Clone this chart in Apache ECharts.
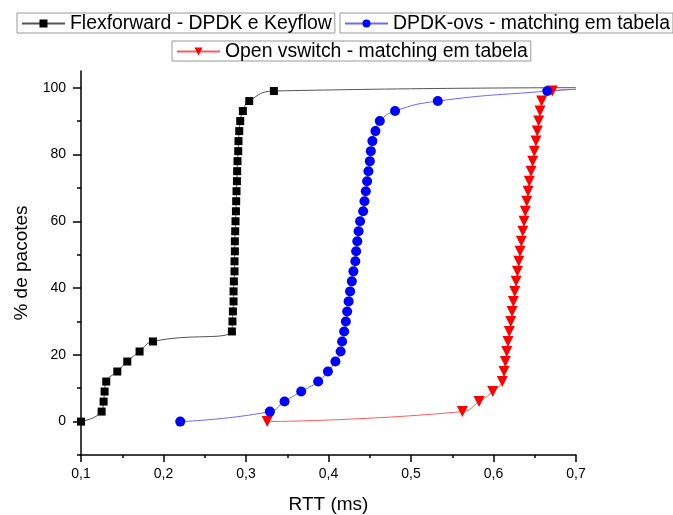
<!DOCTYPE html>
<html><head><meta charset="utf-8">
<script src="https://cdn.jsdelivr.net/npm/echarts@6/dist/echarts.min.js"></script>
<style>html,body{margin:0;padding:0;background:#fff}#c{width:673px;height:515px}</style>
</head><body><div id="c"></div>
<script>
// ---- Data ----
const seriesNames = ['Flexforward - DPDK e Keyflow', 'DPDK-ovs - matching em tabela', 'Open vswitch - matching em tabela'];

const flexRTT = [0.1, 0.125, 0.1274, 0.1286, 0.1306, 0.144, 0.1561, 0.171, 0.1872, 0.2829, 0.2836, 0.2841, 0.2849, 0.2849, 0.2853, 0.2861, 0.2861, 0.2865, 0.2865, 0.2869, 0.2873, 0.2878, 0.2881, 0.2885, 0.289, 0.2893, 0.2897, 0.2906, 0.2909, 0.2918, 0.293, 0.2962, 0.3039, 0.3338, 0.7];
const flexPct = [0, 3, 6, 9, 12, 15, 18, 21, 24, 27, 30, 33, 36, 39, 42, 45, 48, 51, 54, 57, 60, 63, 66, 69, 72, 75, 78, 81, 84, 87, 90, 93, 96, 99, 100];

const dpdkRTT = [0.2203, 0.329, 0.3467, 0.3669, 0.3875, 0.3993, 0.4084, 0.4147, 0.4165, 0.419, 0.421, 0.4226, 0.4244, 0.4262, 0.4283, 0.4302, 0.4325, 0.4335, 0.4349, 0.4365, 0.4383, 0.442, 0.4436, 0.4452, 0.4468, 0.4484, 0.4501, 0.4513, 0.4532, 0.4569, 0.4622, 0.4807, 0.5325, 0.6652, 0.7];
const dpdkPct = [0, 3, 6, 9, 12, 15, 18, 21, 24, 27, 30, 33, 36, 39, 42, 45, 48, 51, 54, 57, 60, 63, 66, 69, 72, 75, 78, 81, 84, 87, 90, 93, 96, 99, 99.5];

const ovsRTT = [0.3257, 0.5623, 0.5825, 0.5991, 0.6107, 0.6128, 0.6144, 0.6161, 0.6176, 0.6192, 0.6209, 0.6225, 0.6241, 0.6258, 0.6274, 0.629, 0.6307, 0.6322, 0.6338, 0.6355, 0.637, 0.6386, 0.6403, 0.6419, 0.6434, 0.6455, 0.6475, 0.6495, 0.6515, 0.6531, 0.6548, 0.6564, 0.6584, 0.6713, 0.7];
const ovsPct = [0, 3, 6, 9, 12, 15, 18, 21, 24, 27, 30, 33, 36, 39, 42, 45, 48, 51, 54, 57, 60, 63, 66, 69, 72, 75, 78, 81, 84, 87, 90, 93, 96, 99, 99.5];

const yLabelValues = [0, 20, 40, 60, 80, 100];
const yMinorTickValues = [-10, 10, 30, 50, 70, 90];

// ---- Chart ----
const FONT = 'Liberation Sans';
function pts(xs, ys) {
  return xs.map((x, i) => i === xs.length - 1 ? { value: [x, ys[i]], symbol: 'none' } : [x, ys[i]]);
}
const legendCommon = {
  orient: 'horizontal', itemWidth: 43, itemHeight: 10, padding: [1, 3, 0, 4],
  borderColor: '#999', borderWidth: 1, selectedMode: false,
  textStyle: { fontSize: 19.4, fontFamily: FONT, color: '#000' }
};
const chart = echarts.init(document.getElementById('c'), null, { renderer: 'canvas' });
chart.setOption({
  animation: false,
  backgroundColor: '#fff',
  legend: [
    Object.assign({ data: [seriesNames[0]], left: 17, top: 13 }, legendCommon),
    Object.assign({ data: [seriesNames[1]], left: 340, top: 13 }, legendCommon),
    Object.assign({ data: [seriesNames[2]], left: 172, top: 41 }, legendCommon)
  ],
  grid: [
    { left: 81, right: 97, top: 71, bottom: 60, outerBoundsMode: 'none', containLabel: false },
    { left: 81, right: 97, top: 71, bottom: 60, outerBoundsMode: 'none', containLabel: false }
  ],
  xAxis: [
    {
      type: 'value', gridIndex: 0, min: 0.1, max: 0.7, interval: 0.1,
      name: 'RTT (ms)', nameLocation: 'middle', nameGap: 40,
      nameTextStyle: { fontSize: 19, fontFamily: FONT, color: '#000' },
      axisLine: { show: true, onZero: false, lineStyle: { color: '#000', width: 1.5 } },
      axisTick: { show: true, length: 7, lineStyle: { color: '#000', width: 1.5 } },
      minorTick: { show: true, splitNumber: 2, length: 3, lineStyle: { color: '#000', width: 1.5 } },
      axisLabel: { fontSize: 14, fontFamily: FONT, color: '#000', margin: 12,
        formatter: v => v.toFixed(1).replace('.', ',') },
      splitLine: { show: false }
    },
    { type: 'value', gridIndex: 1, min: 0.1, max: 0.7, show: false }
  ],
  yAxis: [
    {
      type: 'value', gridIndex: 0, min: -10, max: 105,
      name: '% de pacotes', nameLocation: 'middle', nameGap: 50,
      nameTextStyle: { fontSize: 19, fontFamily: FONT, color: '#000' },
      axisLine: { show: true, onZero: false, lineStyle: { color: '#000', width: 1.5 } },
      axisTick: { show: true, length: 4, customValues: yMinorTickValues, lineStyle: { color: '#000', width: 1.5 } },
      axisLabel: { show: false },
      splitLine: { show: false }
    },
    {
      type: 'value', gridIndex: 1, min: -10, max: 105,
      axisLine: { show: false, onZero: false },
      axisTick: { show: true, length: 8, customValues: yLabelValues, lineStyle: { color: '#000', width: 1.5 } },
      axisLabel: { show: true, customValues: yLabelValues, margin: 15, fontSize: 14, fontFamily: FONT, color: '#000' },
      splitLine: { show: false }
    }
  ],
  series: [
    {
      name: seriesNames[2], type: 'line', xAxisIndex: 0, yAxisIndex: 0,
      data: pts(ovsRTT, ovsPct), symbol: 'triangle', symbolRotate: 180, symbolSize: 11,
      smooth: 0.5,
      itemStyle: { color: '#ff0000' }, lineStyle: { color: '#ff5a5a', width: 1 }
    },
    {
      name: seriesNames[1], type: 'line', xAxisIndex: 0, yAxisIndex: 0,
      data: pts(dpdkRTT, dpdkPct), symbol: 'circle', symbolSize: 10,
      smooth: 0.5,
      itemStyle: { color: '#0000ff' }, lineStyle: { color: '#6a6aff', width: 1 }
    },
    {
      name: seriesNames[0], type: 'line', xAxisIndex: 0, yAxisIndex: 0,
      data: pts(flexRTT, flexPct), symbol: 'rect', symbolSize: 8,
      smooth: 0.5,
      itemStyle: { color: '#000000' }, lineStyle: { color: '#555555', width: 1 }
    }
  ]
});
</script>
</body></html>
